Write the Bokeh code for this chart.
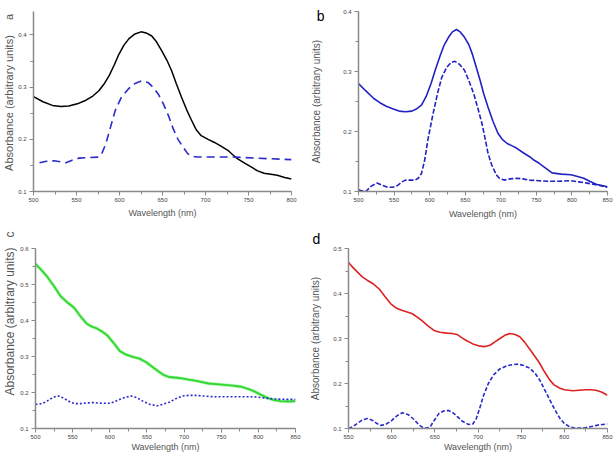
from bokeh.plotting import figure
from bokeh.layouts import column, row
from bokeh.models import (Range1d, SingleIntervalTicker, FixedTicker, LinearAxis,
                          PrintfTickFormatter)
from bokeh.embed import file_html
from bokeh.resources import INLINE

# ---------------- data ----------------
# panel a
a_wl_solid = [500, 511, 522, 532, 541, 551, 561, 569, 576, 582, 588, 594, 599, 605, 611, 618, 625, 631, 637.5, 643, 649, 655, 660.5, 666, 672, 678, 683.6, 689, 695, 703, 710.5, 718, 726, 732, 737, 745, 753, 760, 768, 776, 783.5, 792, 800]
a_abs_solid = [0.282, 0.272, 0.265, 0.263, 0.264, 0.268, 0.275, 0.283, 0.293, 0.306, 0.322, 0.343, 0.362, 0.380, 0.393, 0.402, 0.406, 0.404, 0.398, 0.387, 0.370, 0.352, 0.332, 0.307, 0.281, 0.257, 0.237, 0.219, 0.207, 0.200, 0.194, 0.187, 0.179, 0.170, 0.163, 0.155, 0.147, 0.140, 0.135, 0.133, 0.131, 0.127, 0.124]
a_wl_dash = [507, 515, 524, 531, 537.6, 545, 553, 565, 576, 580, 584, 589, 595, 602, 610.6, 618, 626, 633, 639, 645, 651, 657, 662.5, 668, 674, 679, 683.6, 690, 703, 733.5, 772, 800]
a_abs_dash = [0.155, 0.158, 0.159, 0.157, 0.155, 0.160, 0.164, 0.165, 0.166, 0.175, 0.191, 0.220, 0.255, 0.280, 0.297, 0.307, 0.312, 0.309, 0.300, 0.287, 0.268, 0.245, 0.220, 0.200, 0.185, 0.173, 0.168, 0.166, 0.166, 0.166, 0.163, 0.161]

# panel b
b_wl_solid = [500, 510, 521.5, 530, 539, 548, 557, 566, 575, 582, 588.5, 595, 602, 608, 615, 620, 626.5, 632, 637.7, 643, 649, 655, 660, 665, 671, 676, 682, 689, 696, 702, 709, 716, 722.6, 731, 740.5, 747, 754, 763, 772, 785, 798.6, 808, 816.5, 825, 834, 842, 850]
b_abs_solid = [0.280, 0.268, 0.255, 0.248, 0.242, 0.238, 0.234, 0.233, 0.234, 0.238, 0.244, 0.258, 0.280, 0.303, 0.327, 0.343, 0.357, 0.366, 0.370, 0.366, 0.357, 0.345, 0.329, 0.309, 0.285, 0.263, 0.241, 0.217, 0.197, 0.187, 0.180, 0.176, 0.172, 0.165, 0.158, 0.152, 0.147, 0.139, 0.131, 0.129, 0.128, 0.125, 0.122, 0.117, 0.112, 0.110, 0.108]
b_wl_dash = [500, 505, 510, 518, 526, 534, 541.6, 548, 555, 561, 566, 572, 579.6, 584, 588.5, 593, 597.5, 604, 611, 617, 624, 630, 635.4, 642, 649, 655, 662, 668, 673.6, 678, 682, 687, 693.6, 698, 704.7, 713, 722.6, 731, 740.5, 754, 767, 782, 798.6, 810, 821, 835, 850]
b_abs_dash = [0.103, 0.101, 0.100, 0.109, 0.114, 0.110, 0.107, 0.107, 0.110, 0.116, 0.119, 0.119, 0.119, 0.122, 0.130, 0.152, 0.186, 0.225, 0.263, 0.290, 0.307, 0.315, 0.317, 0.312, 0.302, 0.285, 0.263, 0.238, 0.213, 0.188, 0.164, 0.145, 0.128, 0.122, 0.119, 0.121, 0.122, 0.121, 0.119, 0.118, 0.117, 0.117, 0.118, 0.116, 0.114, 0.111, 0.107]

# panel c
c_wl_solid = [500, 508, 516, 525, 534, 543, 551.7, 560, 569, 576, 582.6, 589, 596, 605, 613.6, 622, 631, 640, 649, 658, 666.6, 673, 680, 690, 697.5, 706, 715, 724, 733, 744, 755, 766, 777, 786, 794.7, 803, 812, 821, 830, 840, 850]
c_abs_solid = [0.557, 0.540, 0.521, 0.495, 0.467, 0.450, 0.436, 0.413, 0.391, 0.383, 0.378, 0.370, 0.360, 0.338, 0.315, 0.305, 0.299, 0.294, 0.284, 0.270, 0.257, 0.248, 0.243, 0.241, 0.239, 0.236, 0.233, 0.229, 0.225, 0.223, 0.221, 0.219, 0.216, 0.210, 0.203, 0.194, 0.185, 0.179, 0.176, 0.175, 0.176]
c_wl_dot = [500, 506, 512, 520, 527, 532, 538, 547, 554, 560.5, 569, 578, 589, 600, 607, 613.6, 621, 629, 636, 644.5, 654, 664, 671, 680, 689, 697.5, 706, 715, 728, 741.7, 768, 794.7, 808, 821, 835, 850]
c_abs_dot = [0.167, 0.168, 0.172, 0.182, 0.189, 0.190, 0.184, 0.173, 0.169, 0.169, 0.171, 0.172, 0.170, 0.170, 0.175, 0.181, 0.187, 0.190, 0.186, 0.176, 0.167, 0.163, 0.167, 0.173, 0.183, 0.190, 0.192, 0.192, 0.190, 0.188, 0.188, 0.188, 0.185, 0.182, 0.181, 0.181]

# panel d
d_wl_solid = [550, 555, 560.7, 566, 572, 579, 585.6, 592, 599, 605, 612.4, 618, 624, 630, 635.4, 642, 649, 656, 664, 670, 675.7, 681, 687, 694, 702.5, 708, 714, 720, 725.5, 731, 737, 743, 748.4, 754, 760, 766, 771.4, 777, 783, 788, 794.4, 800, 809.7, 817, 825, 831, 836.6, 843, 850]
d_abs_solid = [0.469, 0.458, 0.447, 0.437, 0.429, 0.421, 0.410, 0.394, 0.377, 0.368, 0.362, 0.359, 0.355, 0.347, 0.339, 0.328, 0.318, 0.314, 0.312, 0.311, 0.309, 0.302, 0.295, 0.288, 0.283, 0.282, 0.285, 0.293, 0.300, 0.307, 0.311, 0.309, 0.304, 0.292, 0.276, 0.260, 0.245, 0.226, 0.208, 0.197, 0.190, 0.186, 0.184, 0.185, 0.186, 0.186, 0.185, 0.181, 0.174]
d_wl_dash = [550, 555, 560.7, 566, 572, 578, 583, 587.5, 593, 599, 606, 612.4, 619, 626, 631, 637, 641, 645, 650, 654.6, 660, 666, 671, 675.7, 682, 689, 694, 698, 702, 706, 712, 718, 725, 733, 740, 746.5, 753, 760, 766, 771.4, 777, 783, 789, 794.4, 800, 806, 812, 817.4, 825, 832.7, 840, 850]
d_abs_dash = [0.100, 0.104, 0.112, 0.119, 0.122, 0.118, 0.111, 0.107, 0.109, 0.116, 0.128, 0.135, 0.131, 0.120, 0.109, 0.101, 0.101, 0.105, 0.120, 0.133, 0.139, 0.140, 0.135, 0.127, 0.116, 0.109, 0.110, 0.122, 0.145, 0.171, 0.200, 0.219, 0.232, 0.239, 0.242, 0.243, 0.240, 0.234, 0.223, 0.208, 0.187, 0.164, 0.142, 0.124, 0.111, 0.104, 0.101, 0.101, 0.102, 0.105, 0.108, 0.110]

panel_letters = ["a", "b", "c", "d"]
x_label = "Wavelength (nm)"
y_label = "Absorbance (arbitrary units)"

FONT = "Liberation Sans"
AXIS_COL = "#8a8a8a"
LABEL_COL = "#555555"
NB = "\u00a0"
EPS = 1e-9


def make_fig(w, h, xr, yr, borders):
    left, right, top, bottom = borders
    p = figure(width=w, height=h, output_backend="svg", toolbar_location=None,
               x_range=Range1d(xr[0] - EPS, xr[1] + EPS),
               y_range=Range1d(yr[0] - EPS, yr[1] + EPS),
               min_border_left=left, min_border_right=right,
               min_border_top=top, min_border_bottom=bottom)
    p.outline_line_color = None
    p.grid.visible = False
    p.xaxis.ticker = SingleIntervalTicker(interval=50, num_minor_ticks=2)
    p.yaxis.ticker = SingleIntervalTicker(interval=0.1, num_minor_ticks=2)
    for ax in (p.xaxis, p.yaxis):
        ax.axis_line_color = AXIS_COL
        ax.axis_line_width = 1.5
        ax.major_tick_line_color = AXIS_COL
        ax.minor_tick_line_color = AXIS_COL
        ax.major_tick_in = 0
        ax.major_tick_out = 4
        ax.minor_tick_in = 0
        ax.minor_tick_out = 3
        ax.major_label_text_font = FONT
        ax.major_label_text_font_size = "6px"
        ax.major_label_text_color = "#444444"
        ax.axis_label_text_font = FONT
        ax.axis_label_text_font_style = "normal"
        ax.axis_label_text_color = LABEL_COL
    p.xaxis.major_label_standoff = 2
    p.yaxis.major_label_standoff = 3
    p.xaxis.axis_label = x_label
    p.xaxis.axis_label_text_font_size = "9px"
    return p


# panel a
pa = make_fig(307, 227, (500, 800), (0.1, 0.445), (31, 16, 10, 36))
pa.line(a_wl_solid, a_abs_solid, line_color="black", line_width=1.5)
pa.line(a_wl_dash, a_abs_dash, line_color="#2b2bcc", line_width=1.6, line_dash="8 5")
pa.xaxis.axis_label_standoff = 3
pa.yaxis.axis_label = NB * 6 + y_label + NB * 5 + panel_letters[0]
pa.yaxis.axis_label_text_font_size = "11px"
pa.yaxis.axis_label_standoff = 0

# panel b
pb = make_fig(308, 227, (500, 850), (0.1, 0.4), (39, 8, 11, 35))
pb.line(b_wl_solid, b_abs_solid, line_color="#2222c4", line_width=1.6)
pb.line(b_wl_dash, b_abs_dash, line_color="#2222c4", line_width=1.6, line_dash="5 2")
pb.xaxis.axis_label_standoff = 4
lab_b = LinearAxis(ticker=FixedTicker(ticks=[0.393], minor_ticks=[]),
                   formatter=PrintfTickFormatter(format=panel_letters[1]),
                   axis_line_color=None, major_tick_line_color=None,
                   minor_tick_line_color=None,
                   major_label_text_font=FONT, major_label_text_font_size="14px",
                   major_label_text_color="black", major_label_standoff=10,
                   axis_label=y_label, axis_label_text_font=FONT,
                   axis_label_text_font_size="10px", axis_label_text_font_style="normal",
                   axis_label_text_color=LABEL_COL, axis_label_standoff=-8)
pb.add_layout(lab_b, "left")

# panel c
pc = make_fig(307, 227, (500, 850), (0.1, 0.6), (31, 12, 17, 24))
pc.line(c_wl_solid, c_abs_solid, line_color="#b8f5b8", line_width=3.5)
pc.line(c_wl_solid, c_abs_solid, line_color="#2fd82f", line_width=1.8)
pc.line(c_wl_dot, c_abs_dot, line_color="#2a2acc", line_width=1.6, line_dash="2 2")
pc.xaxis.axis_label_standoff = 0
pc.yaxis.axis_label = NB * 15 + y_label + NB * 3 + panel_letters[2]
pc.yaxis.axis_label_text_font_size = "12px"
pc.yaxis.axis_label_standoff = 0

# panel d
pd_ = make_fig(308, 227, (550, 850), (0.1, 0.5), (39, 8, 21, 25))
pd_.line(d_wl_solid, d_abs_solid, line_color="#dd2222", line_width=1.6)
pd_.line(d_wl_dash, d_abs_dash, line_color="#2a2acc", line_width=1.6, line_dash="4 2")
pd_.xaxis.axis_label_standoff = 0
pd_.yaxis.axis_label = y_label
pd_.yaxis.axis_label_text_font_size = "10px"
pd_.yaxis.axis_label_standoff = 9
pd_.title.text = panel_letters[3]
pd_.title.align = "left"
pd_.title.offset = -36
pd_.title.standoff = 3
pd_.title.text_font = FONT
pd_.title.text_font_size = "14px"
pd_.title.text_font_style = "normal"
pd_.title.text_color = "black"

layout = column(row(pa, pb), row(pc, pd_))
open("out.html", "w").write(file_html(layout, INLINE))
